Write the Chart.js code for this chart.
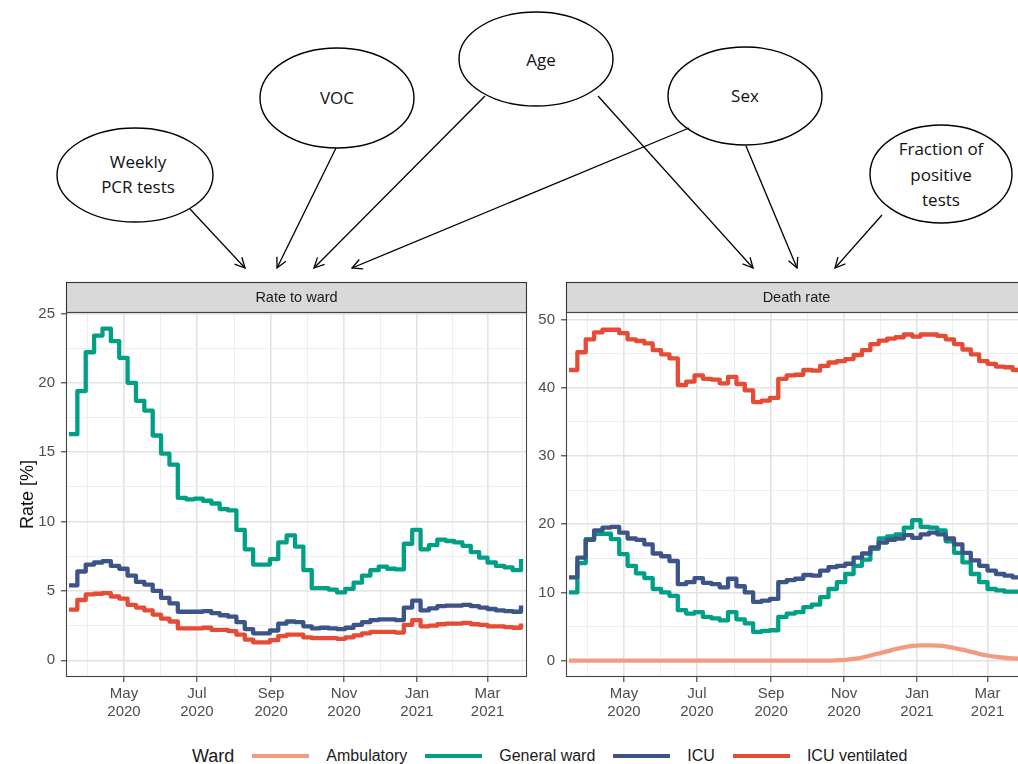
<!DOCTYPE html>
<html>
<head>
<meta charset="utf-8">
<script src="https://cdn.jsdelivr.net/npm/chart.js@4.4.1/dist/chart.umd.min.js"></script>
<style>
  html, body { margin: 0; padding: 0; background: #fff; }
  body { width: 1018px; height: 764px; overflow: hidden; position: relative; font-family: "Liberation Sans", Arial, sans-serif; }
  #dag { position: absolute; left: 0; top: 0; }
  #dag text { font-family: "Open Sans", sans-serif; font-size: 17px; fill: #111; text-anchor: middle; }
  .panel { position: absolute; top: 281px; }
  #rateChart { left: 0; }
  #deathChart { left: 500px; }
  #legend { position: absolute; left: 192px; top: 745px; height: 22px; display: flex; align-items: center; white-space: nowrap; color: #1a1a1a; }
  #legend .title { font-size: 18px; }
  #legend .key { display: inline-block; width: 57px; height: 4px; margin: 0 17px 0 18px; }
  #legend .name { font-size: 16px; }
</style>
</head>
<body>

<!-- causal diagram above the two panels -->
<svg id="dag" width="1018" height="280">
  <defs>
    <marker id="head" viewBox="0 0 12 12" refX="11" refY="6" markerWidth="12" markerHeight="12" markerUnits="userSpaceOnUse" orient="auto">
      <path d="M1,1 L11,6 L1,11" fill="none" stroke="#000" stroke-width="1.3"/>
    </marker>
  </defs>
  <g fill="#fff" stroke="#000" stroke-width="1.4">
    <ellipse cx="135" cy="175" rx="78" ry="47"/>
    <ellipse cx="337" cy="98" rx="77" ry="50"/>
    <ellipse cx="536" cy="59" rx="77" ry="47"/>
    <ellipse cx="745" cy="96" rx="77" ry="49"/>
    <ellipse cx="941" cy="174" rx="71" ry="49"/>
  </g>
  <g stroke="#000" stroke-width="1.3" marker-end="url(#head)">
    <line x1="190" y1="209" x2="245" y2="268"/>
    <line x1="336" y1="148" x2="277" y2="268"/>
    <line x1="485" y1="96" x2="314" y2="268"/>
    <line x1="689" y1="128" x2="352" y2="268"/>
    <line x1="598" y1="96" x2="753" y2="268"/>
    <line x1="746" y1="146" x2="797" y2="268"/>
    <line x1="882" y1="215" x2="835" y2="268"/>
  </g>
  <text x="138" y="168">Weekly</text>
  <text x="138" y="193">PCR tests</text>
  <text x="337" y="104">VOC</text>
  <text x="541" y="66">Age</text>
  <text x="745" y="102">Sex</text>
  <text x="941" y="155">Fraction of</text>
  <text x="941" y="181">positive</text>
  <text x="941" y="206">tests</text>
</svg>

<canvas id="rateChart" class="panel" width="540" height="450"></canvas>
<canvas id="deathChart" class="panel" width="540" height="450"></canvas>
<div id="legend"></div>

<script>
// week start dates of the rolling estimates
const weeks = [
  '2020-03-16','2020-03-23','2020-03-30','2020-04-06','2020-04-13','2020-04-20','2020-04-27',
  '2020-05-04','2020-05-11','2020-05-18','2020-05-25','2020-06-01','2020-06-08','2020-06-15',
  '2020-06-22','2020-06-29','2020-07-06','2020-07-13','2020-07-20','2020-07-27','2020-08-03',
  '2020-08-10','2020-08-17','2020-08-24','2020-08-31','2020-09-07','2020-09-14','2020-09-21',
  '2020-09-28','2020-10-05','2020-10-12','2020-10-19','2020-10-26','2020-11-02','2020-11-09',
  '2020-11-16','2020-11-23','2020-11-30','2020-12-07','2020-12-14','2020-12-21','2020-12-28',
  '2021-01-04','2021-01-11','2021-01-18','2021-01-25','2021-02-01','2021-02-08','2021-02-15',
  '2021-02-22','2021-03-01','2021-03-08','2021-03-15','2021-03-22','2021-03-29'
];

// rate to ward [%]
const rateGeneral = [
  16.3, 19.4, 22.2, 23.4, 23.9, 23.0, 21.8, 20.0, 18.7, 18.0, 16.2, 14.9, 14.1, 11.7,
  11.6, 11.65, 11.5, 11.3, 10.9, 10.8, 9.4, 8.0, 6.9, 6.9, 7.3, 8.5, 9.0, 8.2,
  6.5, 5.2, 5.2, 5.1, 4.9, 5.15, 5.6, 6.1, 6.5, 6.75, 6.6, 6.55, 8.4, 9.4,
  8.0, 8.3, 8.7, 8.6, 8.5, 8.25, 7.8, 7.4, 7.05, 6.8, 6.7, 6.5, 7.3
];
const rateICU = [
  5.4, 6.4, 6.9, 7.05, 7.15, 6.8, 6.6, 6.1, 5.65, 5.45, 5.0, 4.5, 4.1, 3.5,
  3.5, 3.5, 3.55, 3.4, 3.25, 3.15, 2.75, 2.25, 1.95, 1.95, 2.15, 2.65, 2.8, 2.75,
  2.45, 2.3, 2.35, 2.3, 2.25, 2.35, 2.55, 2.75, 2.9, 2.95, 2.95, 2.9, 3.8, 4.3,
  3.6, 3.75, 3.9, 3.95, 3.95, 4.0, 3.9, 3.8, 3.7, 3.6, 3.55, 3.5, 3.95
];
const rateVent = [
  3.65, 4.35, 4.75, 4.8, 4.85, 4.6, 4.45, 4.0, 3.8, 3.6, 3.3, 3.0, 2.8, 2.3,
  2.3, 2.3, 2.35, 2.2, 2.2, 2.1, 1.85, 1.5, 1.3, 1.3, 1.45, 1.75, 1.85, 1.85,
  1.65, 1.6, 1.6, 1.6, 1.55, 1.65, 1.8, 1.95, 2.05, 2.05, 2.05, 2.0, 2.55, 2.9,
  2.45, 2.5, 2.6, 2.65, 2.65, 2.7, 2.6, 2.55, 2.45, 2.45, 2.4, 2.35, 2.65
];

// death rate [%]
const deathAmbulatory = [
  0, 0, 0, 0, 0, 0, 0, 0, 0, 0, 0, 0, 0, 0,
  0, 0, 0, 0, 0, 0, 0, 0, 0, 0, 0, 0, 0, 0,
  0, 0, 0, 0, 0.05, 0.12, 0.25, 0.45, 0.75, 1.05, 1.35, 1.7, 1.95, 2.15,
  2.25, 2.25, 2.2, 2.1, 1.85, 1.6, 1.3, 1.0, 0.75, 0.55, 0.42, 0.32, 0.28
];
const deathGeneral = [
  10.0, 14.3, 17.8, 18.6, 18.6, 17.8, 15.6, 13.9, 12.8, 12.1, 10.5, 10.0, 9.5, 7.4,
  6.9, 7.1, 6.4, 6.2, 5.9, 7.1, 6.05, 5.45, 4.2, 4.35, 4.45, 6.4, 6.9, 7.1,
  7.85, 8.2, 9.3, 10.5, 11.5, 12.7, 13.9, 14.8, 16.4, 17.9, 18.2, 18.5, 19.5, 20.6,
  19.6, 19.5, 19.1, 17.5, 15.8, 14.4, 12.7, 11.5, 10.5, 10.3, 10.1, 10.1, 10.1
];
const deathICU = [
  12.2, 15.1, 17.7, 19.1, 19.5, 19.6, 18.75, 17.9, 17.7, 17.05, 15.7, 15.3, 14.6, 11.2,
  11.5, 12.1, 11.4, 11.2, 10.75, 12.0, 10.9, 10.0, 8.6, 8.8, 9.05, 11.5, 11.8, 12.0,
  12.55, 12.45, 13.2, 13.7, 13.9, 14.2, 15.1, 15.7, 16.6, 17.3, 17.7, 17.9, 18.4, 18.0,
  18.5, 18.75, 18.5, 17.9, 17.05, 15.8, 14.7, 13.9, 13.2, 12.7, 12.45, 12.2, 12.2
];
const deathVent = [
  42.6, 45.2, 47.1, 48.1, 48.5, 48.5, 48.0, 47.1, 46.85, 46.5, 45.5, 44.9, 44.3, 40.4,
  40.9, 41.8, 41.3, 41.2, 40.65, 41.6, 40.55, 39.6, 37.9, 38.1, 38.5, 41.3, 41.8, 41.9,
  42.6, 42.5, 43.2, 43.7, 43.9, 44.2, 44.8, 45.5, 46.4, 46.9, 47.2, 47.4, 47.8, 47.5,
  47.8, 47.8, 47.6, 47.1, 46.4, 45.6, 44.9, 43.9, 43.5, 43.1, 43.0, 42.6, 42.5
];

const wardNames = ['Ambulatory', 'General ward', 'ICU', 'ICU ventilated'];
const wardColors = ['#F39B7F', '#00A087', '#3C5488', '#E64B35'];

// axis breaks
const monthBreaks = ['2020-05-01', '2020-07-01', '2020-09-01', '2020-11-01', '2021-01-01', '2021-03-01'];
const monthLabels = [['May', '2020'], ['Jul', '2020'], ['Sep', '2020'], ['Nov', '2020'], ['Jan', '2021'], ['Mar', '2021']];
const rateBreaks = [0, 5, 10, 15, 20, 25];
const deathBreaks = [0, 10, 20, 30, 40, 50];

const day = s => (Date.parse(s) - Date.parse('2020-01-01')) / 864e5;
const xMajor = monthBreaks.map(day);

// minor breaks halfway between majors (and half a step past the ends)
function withMinors(major) {
  const out = [];
  const step0 = major[1] - major[0];
  const stepN = major[major.length - 1] - major[major.length - 2];
  out.push({ value: major[0] - step0 / 2, major: false });
  major.forEach((v, i) => {
    out.push({ value: v, major: true });
    const next = i < major.length - 1 ? major[i + 1] : v + stepN;
    out.push({ value: (v + next) / 2, major: false });
  });
  return out;
}

const isMajor = (list, v) => list.some(m => Math.abs(m - v) < 1e-6);
const gridColor = list => ctx => ctx.tick && isMajor(list, ctx.tick.value) ? '#e2e2e2' : '#eeeeee';
const gridWidth = list => ctx => ctx.tick && isMajor(list, ctx.tick.value) ? 1.6 : 1;
const tickColor = list => ctx => ctx.tick && isMajor(list, ctx.tick.value) ? '#333333' : 'rgba(0,0,0,0)';

const tickFont = { family: '"Liberation Sans", Arial, sans-serif', size: 15 };

// grey facet strip above the panel, plus the panel border
const stripPlugin = {
  id: 'strip',
  beforeDraw(chart, args, opts) {
    const { ctx, chartArea: a } = chart;
    ctx.save();
    ctx.fillStyle = '#d9d9d9';
    ctx.fillRect(a.left, a.top - 30, a.right - a.left, 30);
    ctx.strokeStyle = '#333';
    ctx.lineWidth = 1.1;
    ctx.strokeRect(a.left + 0.5, a.top - 29.5, a.right - a.left - 1, 30);
    ctx.fillStyle = '#1a1a1a';
    ctx.font = '14.5px "Liberation Sans", Arial, sans-serif';
    ctx.textAlign = 'center';
    ctx.textBaseline = 'middle';
    ctx.fillText(opts.text, (a.left + a.right) / 2, a.top - 14);
    ctx.restore();
  },
  afterDatasetsDraw(chart) {
    const { ctx, chartArea: a } = chart;
    ctx.save();
    ctx.strokeStyle = '#444';
    ctx.lineWidth = 1.1;
    ctx.strokeRect(a.left + 0.5, a.top + 0.5, a.right - a.left - 1, a.bottom - a.top - 1);
    ctx.restore();
  }
};

// each weekly value holds until the next week starts
function series(values, i, extra) {
  return Object.assign({
    label: wardNames[i],
    data: weeks.map((w, k) => ({ x: day(w), y: values[k] })),
    borderColor: wardColors[i],
    borderWidth: 4.3,
    borderJoinStyle: 'round',
    pointRadius: 0,
    stepped: 'before',
    fill: false,
    order: 3 - i
  }, extra || {});
}

function panelOptions(stripText, yMin, yMax, yBreaks, yTitle) {
  return {
    responsive: false,
    animation: false,
    events: [],
    layout: { padding: { top: 31, right: 13, left: 0, bottom: 0 } },
    plugins: {
      legend: { display: false },
      tooltip: { enabled: false },
      strip: { text: stripText }
    },
    scales: {
      x: {
        type: 'linear',
        min: 72.5,
        max: 458,
        afterBuildTicks: s => { s.ticks = withMinors(xMajor).map(t => ({ value: t.value })); },
        afterFit: s => { s.height = 54; },
        grid: {
          color: gridColor(xMajor), lineWidth: gridWidth(xMajor),
          tickColor: tickColor(xMajor), tickLength: 5, tickWidth: 1.1, drawTicks: true
        },
        border: { display: false },
        ticks: {
          autoSkip: false, maxRotation: 0, padding: 3, color: '#4d4d4d', font: tickFont,
          callback: v => {
            const i = xMajor.findIndex(m => Math.abs(m - v) < 1e-6);
            return i >= 0 ? monthLabels[i] : '';
          }
        }
      },
      y: {
        type: 'linear',
        min: yMin,
        max: yMax,
        afterBuildTicks: s => {
          s.ticks = withMinors(yBreaks).filter(t => t.value >= yMin && t.value <= yMax).map(t => ({ value: t.value }));
        },
        afterFit: s => { s.width = 66; },
        grid: {
          color: gridColor(yBreaks), lineWidth: gridWidth(yBreaks),
          tickColor: tickColor(yBreaks), tickLength: 5, tickWidth: 1.1, drawTicks: true
        },
        border: { display: false },
        ticks: {
          padding: 6, color: '#4d4d4d', font: tickFont,
          callback: v => isMajor(yBreaks, v) ? String(v) : ''
        },
        title: {
          display: !!yTitle, text: yTitle || '', color: '#111',
          font: { family: '"Liberation Sans", Arial, sans-serif', size: 18 },
          padding: { top: 17, bottom: 0 }
        }
      }
    }
  };
}

new Chart(document.getElementById('rateChart'), {
  type: 'line',
  data: {
    datasets: [
      series(rateGeneral, 1),
      series(rateICU, 2),
      series(rateVent, 3)
    ]
  },
  options: panelOptions('Rate to ward', -1.2, 25.1, rateBreaks, 'Rate [%]'),
  plugins: [stripPlugin]
});

new Chart(document.getElementById('deathChart'), {
  type: 'line',
  data: {
    datasets: [
      series(deathAmbulatory, 0, { stepped: false, cubicInterpolationMode: 'monotone' }),
      series(deathGeneral, 1),
      series(deathICU, 2),
      series(deathVent, 3)
    ]
  },
  options: panelOptions('Death rate', -2.4, 51.1, deathBreaks, null),
  plugins: [stripPlugin]
});

// legend row
const legend = document.getElementById('legend');
legend.innerHTML = '<span class="title">Ward</span>' + wardNames.map((n, i) =>
  `<span class="key" style="background:${wardColors[i]}"></span><span class="name">${n}</span>`
).join('');
</script>
</body>
</html>
